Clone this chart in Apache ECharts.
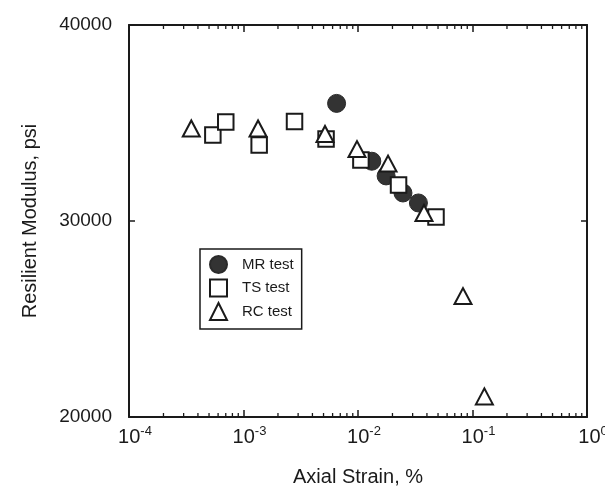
<!DOCTYPE html>
<html>
<head>
<meta charset="utf-8">
<script src="https://cdn.jsdelivr.net/npm/echarts@6/dist/echarts.min.js"></script>
<style>
  html, body { margin: 0; padding: 0; background: #fff; }
  #chart { width: 605px; height: 487px; }
</style>
</head>
<body>
<div id="chart"></div>
<script>
// Resilient modulus vs. axial strain for three test methods
const mrStrain  = [0.0065, 0.0132, 0.0176, 0.0247, 0.0337];
const mrModulus = [36000, 33050, 32300, 31430, 30920];

const tsStrain  = [0.00054, 0.00070, 0.00137, 0.00279, 0.00526, 0.0106, 0.0226, 0.048];
const tsModulus = [34390, 35050, 33880, 35080, 34180, 33110, 31840, 30200];

const rcStrain  = [0.00035, 0.00134, 0.00515, 0.0098, 0.0183, 0.0377, 0.0826, 0.127];
const rcModulus = [34720, 34720, 34440, 33670, 32930, 30410, 26170, 21050];

// decade tick labels (10^n) and modulus tick labels
const xDecades   = [0.0001, 0.001, 0.01, 0.1, 1];
const xExponents = ['-4', '-3', '-2', '-1', '0'];
const yTicks     = [20000, 30000, 40000];

// minor log ticks between decades
const minorTicks = [
  0.0002, 0.0003, 0.0004, 0.0005, 0.0006, 0.0007, 0.0008, 0.0009,
  0.002, 0.003, 0.004, 0.005, 0.006, 0.007, 0.008, 0.009,
  0.02, 0.03, 0.04, 0.05, 0.06, 0.07, 0.08, 0.09,
  0.2, 0.3, 0.4, 0.5, 0.6, 0.7, 0.8, 0.9
];

const FONT = '"Liberation Sans", Arial, Helvetica, sans-serif';
const INK = '#1a1a1a';

function pairs(xs, ys) { return xs.map((x, i) => [x, ys[i]]); }

function expLabel(v) {
  let best = 0;
  xDecades.forEach((d, i) => {
    if (Math.abs(Math.log10(d) - Math.log10(v)) < Math.abs(Math.log10(xDecades[best]) - Math.log10(v))) best = i;
  });
  return '{b|10}{e|' + xExponents[best] + '}';
}

const axisLineStyle = { lineStyle: { color: INK, width: 2 } };

const chart = echarts.init(document.getElementById('chart'), null, { renderer: 'canvas' });
chart.setOption({
  animation: false,
  backgroundColor: '#fff',
  textStyle: { fontFamily: FONT, color: INK },
  grid: { left: 129, right: 18, top: 25, bottom: 70, containLabel: false, outerBoundsMode: 'none' },
  legend: {
    orient: 'vertical',
    left: 200,
    top: 249,
    data: ['MR test', 'TS test', 'RC test'],
    itemWidth: 17,
    itemHeight: 17,
    itemGap: 4.5,
    padding: [6, 8, 8, 9],
    borderColor: INK,
    borderWidth: 1.5,
    borderRadius: 0,
    textStyle: { fontFamily: FONT, fontSize: 15, color: INK, padding: [0, 0, 0, 10] }
  },
  xAxis: [
    {
      type: 'log',
      logBase: 10,
      min: 0.0001,
      max: 1,
      position: 'bottom',
      name: 'Axial Strain, %',
      nameLocation: 'middle',
      nameGap: 50,
      nameTextStyle: { fontFamily: FONT, fontSize: 20, color: INK },
      axisLine: axisLineStyle,
      axisTick: { inside: true, length: 7, lineStyle: { color: INK, width: 1.5 } },
      splitLine: { show: false },
      axisLabel: {
        margin: 8,
        padding: [0, 0, 0, 12],
        formatter: expLabel,
        rich: {
          b: { fontFamily: FONT, fontSize: 20, color: INK, lineHeight: 22 },
          e: { fontFamily: FONT, fontSize: 13, color: INK, padding: [0, 0, 12, 0] }
        }
      }
    },
    {
      type: 'log',
      logBase: 10,
      min: 0.0001,
      max: 1,
      position: 'top',
      axisLine: axisLineStyle,
      axisTick: { inside: true, length: 7, lineStyle: { color: INK, width: 1.5 } },
      axisLabel: { show: false },
      splitLine: { show: false }
    }
  ],
  yAxis: [
    {
      type: 'value',
      min: yTicks[0],
      max: yTicks[yTicks.length - 1],
      interval: 10000,
      position: 'left',
      name: 'Resilient Modulus, psi',
      nameLocation: 'middle',
      nameGap: 89,
      nameRotate: 90,
      nameTextStyle: { fontFamily: FONT, fontSize: 20, color: INK },
      axisLine: { show: true, lineStyle: { color: INK, width: 2 } },
      axisTick: { show: true, inside: true, length: 6, lineStyle: { color: INK, width: 1.5 } },
      splitLine: { show: false },
      axisLabel: {
        margin: 17,
        fontFamily: FONT,
        fontSize: 19,
        color: INK,
        padding: [0, 0, 9, 0],
        formatter: v => String(v)
      }
    },
    {
      type: 'value',
      min: yTicks[0],
      max: yTicks[yTicks.length - 1],
      interval: 10000,
      position: 'right',
      axisLine: { show: true, lineStyle: { color: INK, width: 2 } },
      axisTick: { show: true, inside: true, length: 6, lineStyle: { color: INK, width: 1.5 } },
      axisLabel: { show: false },
      splitLine: { show: false }
    }
  ],
  series: [
    {
      type: 'custom',
      name: 'minor ticks',
      silent: true,
      clip: false,
      z: 1,
      xAxisIndex: 0,
      yAxisIndex: 0,
      data: minorTicks.map(v => [v, yTicks[0]]),
      renderItem: (params, api) => {
        const v = api.value(0);
        const b = api.coord([v, yTicks[0]]);
        const t = api.coord([v, yTicks[yTicks.length - 1]]);
        return {
          type: 'group',
          children: [
            { type: 'line', shape: { x1: b[0], y1: b[1], x2: b[0], y2: b[1] - 4 }, style: { stroke: INK, lineWidth: 1.3 } },
            { type: 'line', shape: { x1: t[0], y1: t[1], x2: t[0], y2: t[1] + 4 }, style: { stroke: INK, lineWidth: 1.3 } }
          ]
        };
      }
    },
    {
      name: 'MR test',
      type: 'scatter',
      z: 3,
      symbol: 'circle',
      symbolSize: 18,
      itemStyle: { color: '#333', borderColor: '#2a2a2a', borderWidth: 1, opacity: 1 },
      data: pairs(mrStrain, mrModulus)
    },
    {
      name: 'TS test',
      type: 'scatter',
      z: 4,
      symbol: 'rect',
      symbolSize: 15.5,
      itemStyle: { color: '#fff', borderColor: INK, borderWidth: 2, opacity: 1 },
      data: pairs(tsStrain, tsModulus)
    },
    {
      name: 'RC test',
      type: 'scatter',
      z: 5,
      symbol: 'triangle',
      symbolSize: [17, 16],
      itemStyle: { color: '#fff', borderColor: INK, borderWidth: 2, opacity: 1 },
      data: pairs(rcStrain, rcModulus)
    }
  ]
});
</script>
</body>
</html>
